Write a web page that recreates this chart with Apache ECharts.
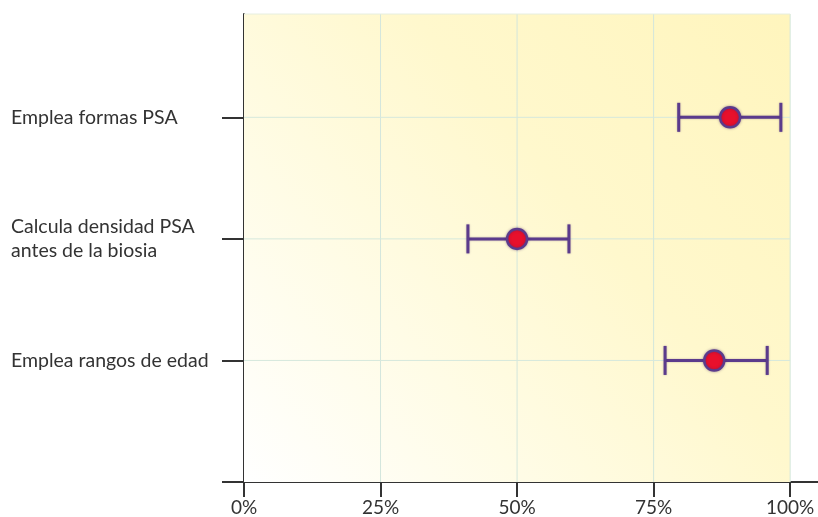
<!DOCTYPE html>
<html>
<head>
<meta charset="utf-8">
<script src="https://cdn.jsdelivr.net/npm/echarts@6/dist/echarts.min.js"></script>
<style>html,body{margin:0;padding:0;background:#fff}#c{width:818px;height:517px}</style>
</head>
<body>
<div id="c"></div>
<script>
// Rows listed bottom to top (y value 1, 2, 3)
var categories = ['Emplea rangos de edad', 'Calcula densidad PSA\nantes de la biosia', 'Emplea formas PSA'];
var means = [86.1, 50.0, 89.0];
var lower = [77.1, 41.0, 79.6];
var upper = [95.8, 59.5, 98.3];
var xTicks = [0, 25, 50, 75, 100];
var rowValues = [1, 2, 3];

var purple = '#5b3b8c';
var FONT = 'Lato';

var chart = echarts.init(document.getElementById('c'), null, {renderer: 'canvas'});

var errData = categories.map(function (c, i) { return [lower[i], upper[i], rowValues[i]]; });
var ptData = categories.map(function (c, i) { return [means[i], rowValues[i]]; });

chart.setOption({
  animation: false,
  backgroundColor: '#ffffff',
  grid: {left: 244, right: 0, top: 14, bottom: 34, containLabel: false},
  xAxis: {
    type: 'value', min: 0, max: 105.1, interval: 25,
    axisLine: {show: true, lineStyle: {color: '#333', width: 2}},
    axisTick: {show: true, length: 15, customValues: xTicks, lineStyle: {color: '#333', width: 2}},
    axisLabel: {customValues: xTicks, margin: 16, color: '#333', fontFamily: FONT, fontSize: 19,
      formatter: function (v) { return v + '%'; }},
    splitLine: {show: false}
  },
  yAxis: {
    type: 'value', min: 0, max: 3.85, interval: 1,
    axisLine: {show: true, lineStyle: {color: '#333', width: 2}},
    axisTick: {show: true, length: 22, customValues: [0, 1, 2, 3], lineStyle: {color: '#333', width: 2}},
    axisLabel: {customValues: rowValues, align: 'left', margin: 233, color: '#333', fontFamily: FONT, fontSize: 19.5, lineHeight: 24,
      formatter: function (v) { var i = rowValues.indexOf(v); return i >= 0 ? categories[i] : ''; }},
    splitLine: {show: false}
  },
  series: [
    {
      type: 'custom', z: 1, silent: true,
      data: [[0]],
      renderItem: function (params, api) {
        var tl = api.coord([0, 3.85]);
        var br = api.coord([100, 0]);
        var children = [{
          type: 'rect',
          shape: {x: tl[0], y: tl[1], width: br[0] - tl[0], height: br[1] - tl[1]},
          style: {fill: new echarts.graphic.LinearGradient(0, 1, 1, 0, [
            {offset: 0, color: '#ffffff'},
            {offset: 0.3, color: '#fffce6'},
            {offset: 0.6, color: '#fff8cd'},
            {offset: 1, color: '#fff5bd'}
          ])}
        }];
        xTicks.slice(1).forEach(function (t) {
          var a = api.coord([t, 3.85]), b = api.coord([t, 0]);
          children.push({type: 'line', shape: {x1: a[0], y1: a[1], x2: b[0], y2: b[1]},
            style: {stroke: '#d3e6dc', lineWidth: 1}});
        });
        rowValues.forEach(function (r) {
          var a = api.coord([0, r]), b = api.coord([100, r]);
          children.push({type: 'line', shape: {x1: a[0], y1: a[1], x2: b[0], y2: b[1]},
            style: {stroke: '#d6e8dc', lineWidth: 1}});
        });
        var t0 = api.coord([0, 3.85]), t1 = api.coord([100, 3.85]);
        children.push({type: 'line', shape: {x1: t0[0], y1: t0[1], x2: t1[0], y2: t1[1]},
          style: {stroke: '#e6eee0', lineWidth: 1}});
        return {type: 'group', children: children};
      }
    },
    {
      type: 'custom', z: 3, silent: true,
      data: errData,
      renderItem: function (params, api) {
        var lo = api.coord([api.value(0), api.value(2)]);
        var hi = api.coord([api.value(1), api.value(2)]);
        var h = 14.5;
        var st = {stroke: purple, lineWidth: 3, shadowBlur: 2, shadowColor: 'rgba(60,30,90,0.35)'};
        return {type: 'group', children: [
          {type: 'line', shape: {x1: lo[0], y1: lo[1], x2: hi[0], y2: hi[1]}, style: st},
          {type: 'line', shape: {x1: lo[0], y1: lo[1] - h, x2: lo[0], y2: lo[1] + h}, style: st},
          {type: 'line', shape: {x1: hi[0], y1: hi[1] - h, x2: hi[0], y2: hi[1] + h}, style: st}
        ]};
      }
    },
    {
      type: 'scatter', z: 4, silent: true,
      data: ptData,
      symbol: 'circle', symbolSize: 20,
      itemStyle: {color: '#e8102c', borderColor: purple, borderWidth: 2.5, opacity: 1,
        shadowBlur: 3, shadowColor: 'rgba(60,30,90,0.4)'}
    }
  ]
});
</script>
</body>
</html>
